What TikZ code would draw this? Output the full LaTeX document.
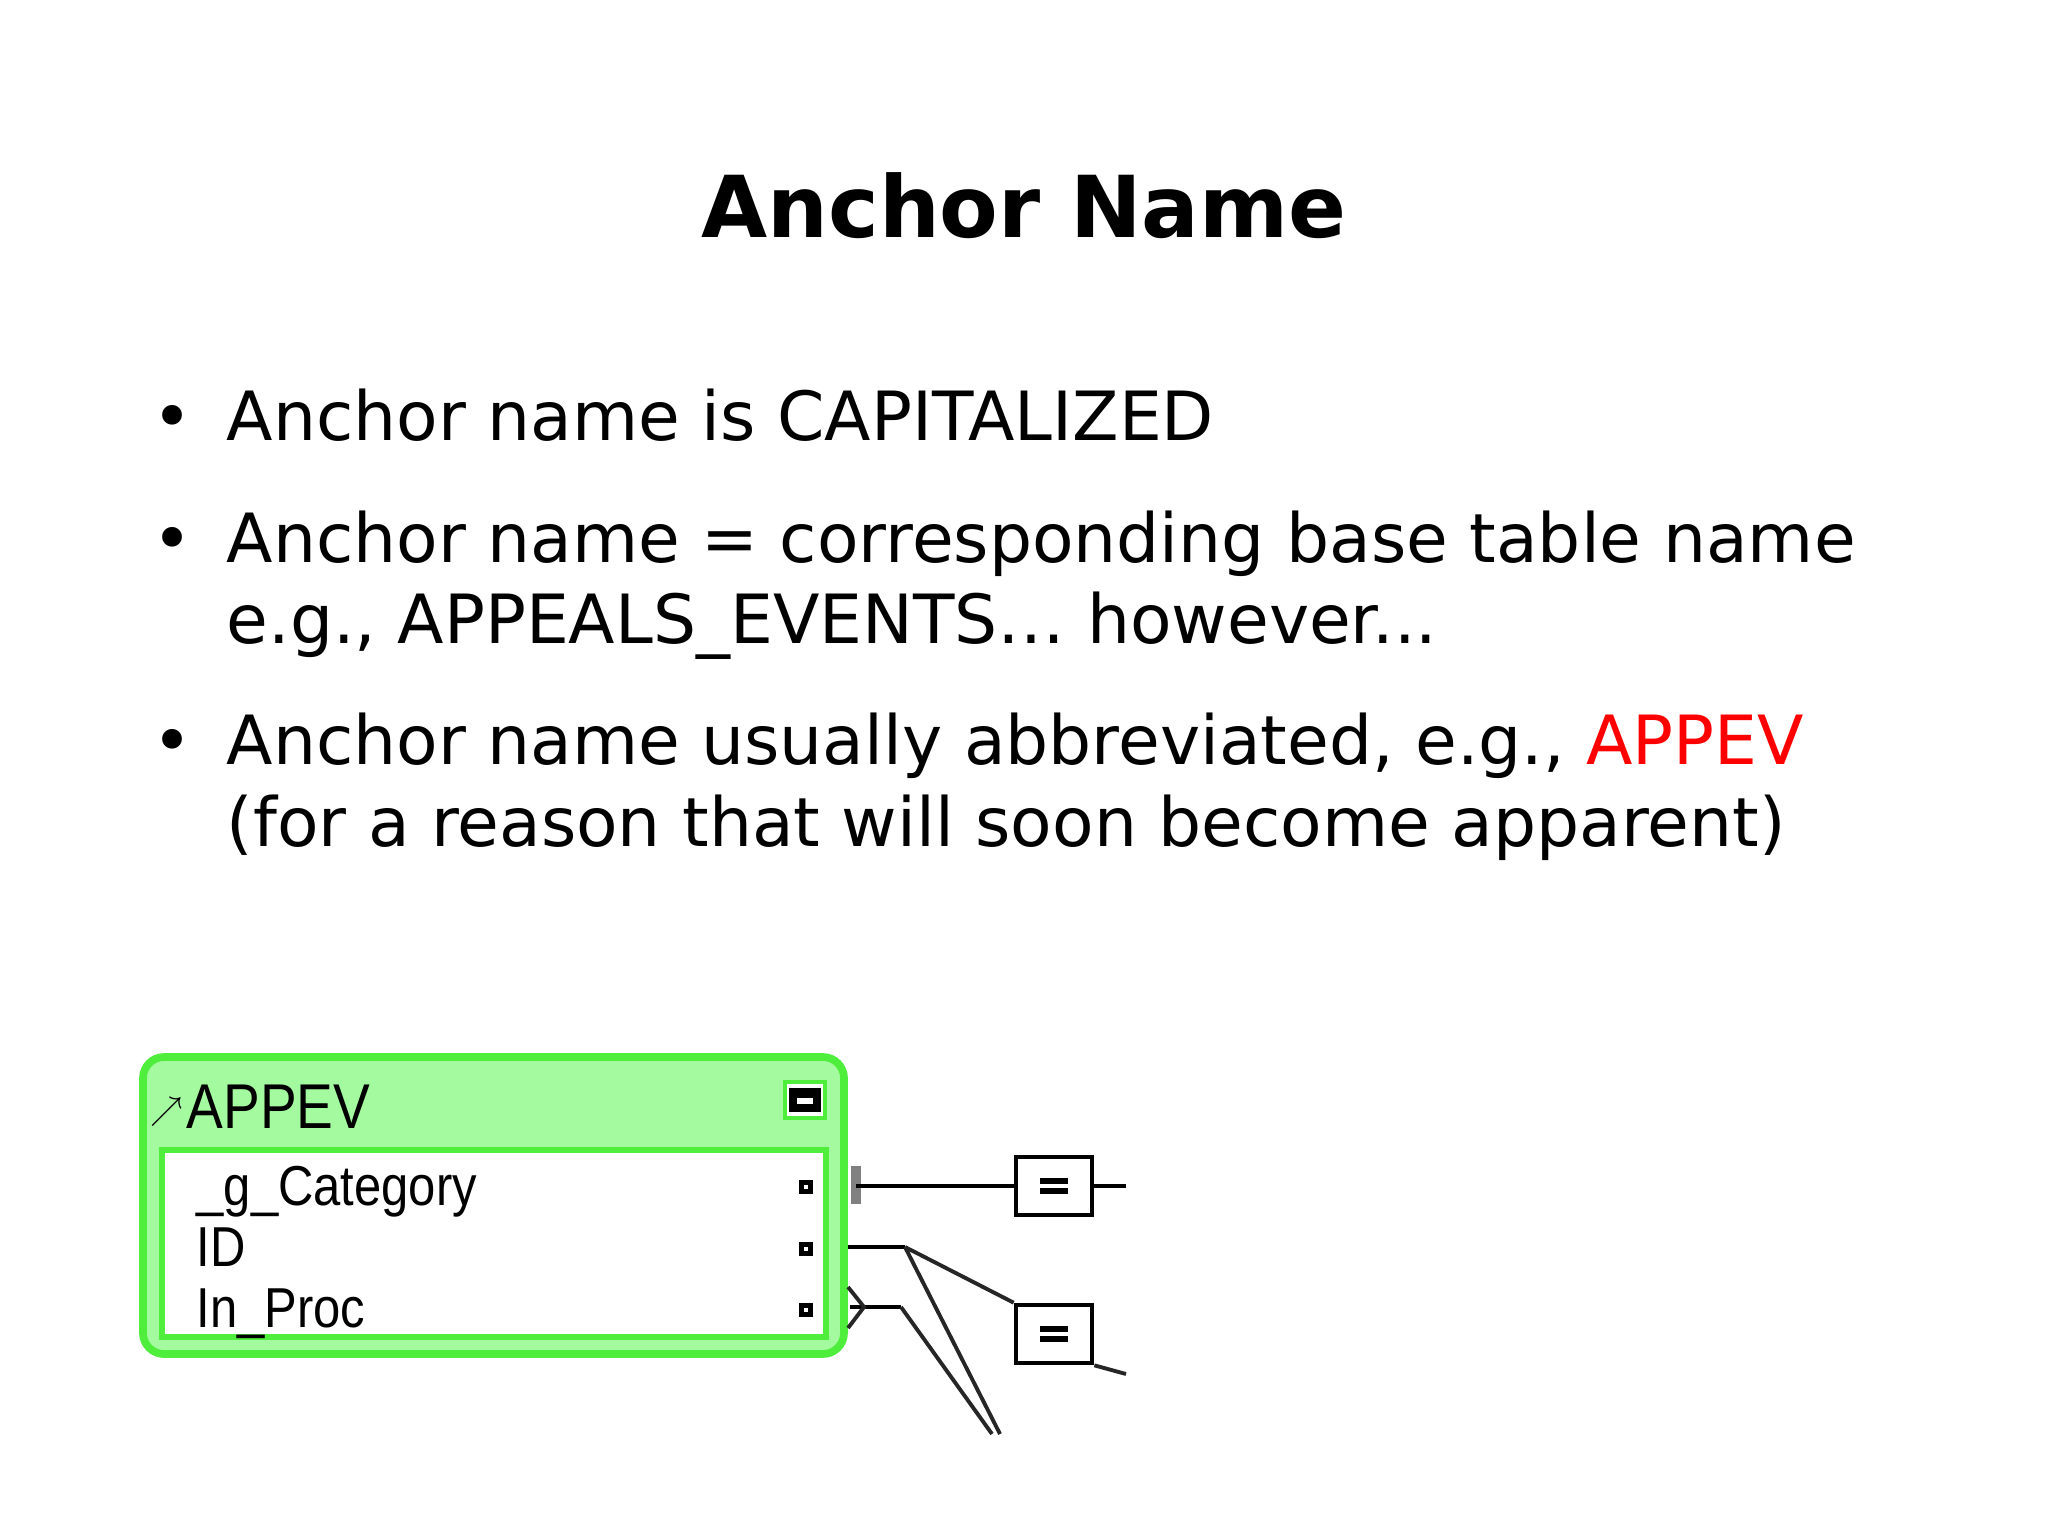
\documentclass[tikz,border=0pt]{standalone}
\usepackage{fontspec}
\setmainfont{DejaVu Sans}
\newfontfamily\boxfont[FakeStretch=0.87]{Liberation Sans}
\begin{document}
\begin{tikzpicture}[x=0.01cm,y=-0.01cm,
  bul/.style={anchor=base west,inner sep=0pt,font=\fontsize{19.3pt}{23pt}\selectfont},
  fld/.style={anchor=base west,inner sep=0pt,font=\boxfont\fontsize{16pt}{18pt}\selectfont},
  port/.style={draw=black,line width=1.2pt,fill=white,minimum size=0.9mm,inner sep=0pt},
  eqbox/.style={draw=black,line width=1.3pt,fill=white,minimum width=7.6mm,minimum height=5.8mm,inner sep=0pt},
  conn/.style={black!85,line width=1.1pt}]
\useasboundingbox (0,0) rectangle (2048,1536);
\fill[white] (0,0) rectangle (2048,1536);
\node[font=\bfseries\fontsize{24.3pt}{28pt}\selectfont,anchor=base,inner sep=0pt] (title) at (1024,237) {Anchor Name};
\node[bul] (b1) at (152,440) {\textbullet};
\node[bul] (t1) at (226,440) {Anchor name is CAPITALIZED};
\node[bul] (b2) at (152,562) {\textbullet};
\node[bul] (t2) at (226,562) {Anchor name = corresponding base table name};
\node[bul] (t2b) at (226,643) {e.g., APPEALS\_EVENTS… however...};
\node[bul] (b3) at (152,764) {\textbullet};
\node[bul] (t3) at (226,764) {Anchor name usually abbreviated, e.g., \textcolor{red}{APPEV}};
\node[bul] (t3b) at (226,846) {(for a reason that will soon become apparent)};
% table box
\definecolor{gfill}{RGB}{164,250,158}
\definecolor{gbord}{RGB}{80,238,60}
\draw[gbord,line width=2.2pt,fill=gfill,rounded corners=6pt] (143,1057) rectangle (844,1354);
\draw[gbord,line width=1.6pt,fill=white] (162,1150) rectangle (826,1337);
\node[draw=gbord,fill=white,line width=1pt,minimum width=4mm,minimum height=3.6mm,inner sep=0pt] (minb) at (805,1100) {};
\draw[black,line width=2pt,fill=white] (793,1092) rectangle (817,1108);
\fill[black] (793,1092) rectangle (817,1098);
\node[inner sep=0pt,font=\fontsize{9pt}{9pt}\selectfont] (arr) at (167,1112) {$\nearrow$};
\node[fld,font=\boxfont\fontsize{18pt}{20pt}\selectfont] (name) at (186,1128) {APPEV};
\node[fld] (f1) at (196,1205) {\_g\_Category};
\node[fld] (f2) at (196,1266) {ID};
\node[fld] (f3) at (196,1327) {In\_Proc};
\node[port] (p1) at (806,1187) {};
\node[port] (p2) at (806,1249) {};
\node[port] (p3) at (806,1310) {};
% connectors
\coordinate (c1) at (856,1186);
\draw[gray,line width=3pt] (856,1166) -- (856,1204);
\node[eqbox] (e1) at (1054,1186) {};
\draw[line width=1.6pt] ([xshift=-1.4mm,yshift=-0.5mm]e1.center) -- ([xshift=1.4mm,yshift=-0.5mm]e1.center)
      ([xshift=-1.4mm,yshift=0.5mm]e1.center) -- ([xshift=1.4mm,yshift=0.5mm]e1.center);
\node[eqbox] (e2) at (1054,1334) {};
\draw[line width=1.6pt] ([xshift=-1.4mm,yshift=-0.5mm]e2.center) -- ([xshift=1.4mm,yshift=-0.5mm]e2.center)
      ([xshift=-1.4mm,yshift=0.5mm]e2.center) -- ([xshift=1.4mm,yshift=0.5mm]e2.center);
\coordinate (r1) at (1126,1186);
\coordinate (r2) at (1126,1374);
\coordinate (k1) at (905,1247);
\coordinate (k2) at (901,1307);
\coordinate (d1) at (1000,1434);
\coordinate (d2) at (992,1434);
\coordinate (s2) at (848,1247);
\coordinate (s3) at (850,1307);
\draw[black,line width=1.3pt] (c1) -- (e1.west) (e1.east) -- (r1);
\draw[black,line width=1.3pt] (s2) -- (k1) (s3) -- (k2);
\draw[conn] (k1) -- (e2.north west) (k1) -- (d1) (k2) -- (d2);
\draw[conn] (e2.south east) -- (r2);
\draw[conn] (848,1287) -- (864,1307) -- (848,1328);
\end{tikzpicture}
\end{document}
